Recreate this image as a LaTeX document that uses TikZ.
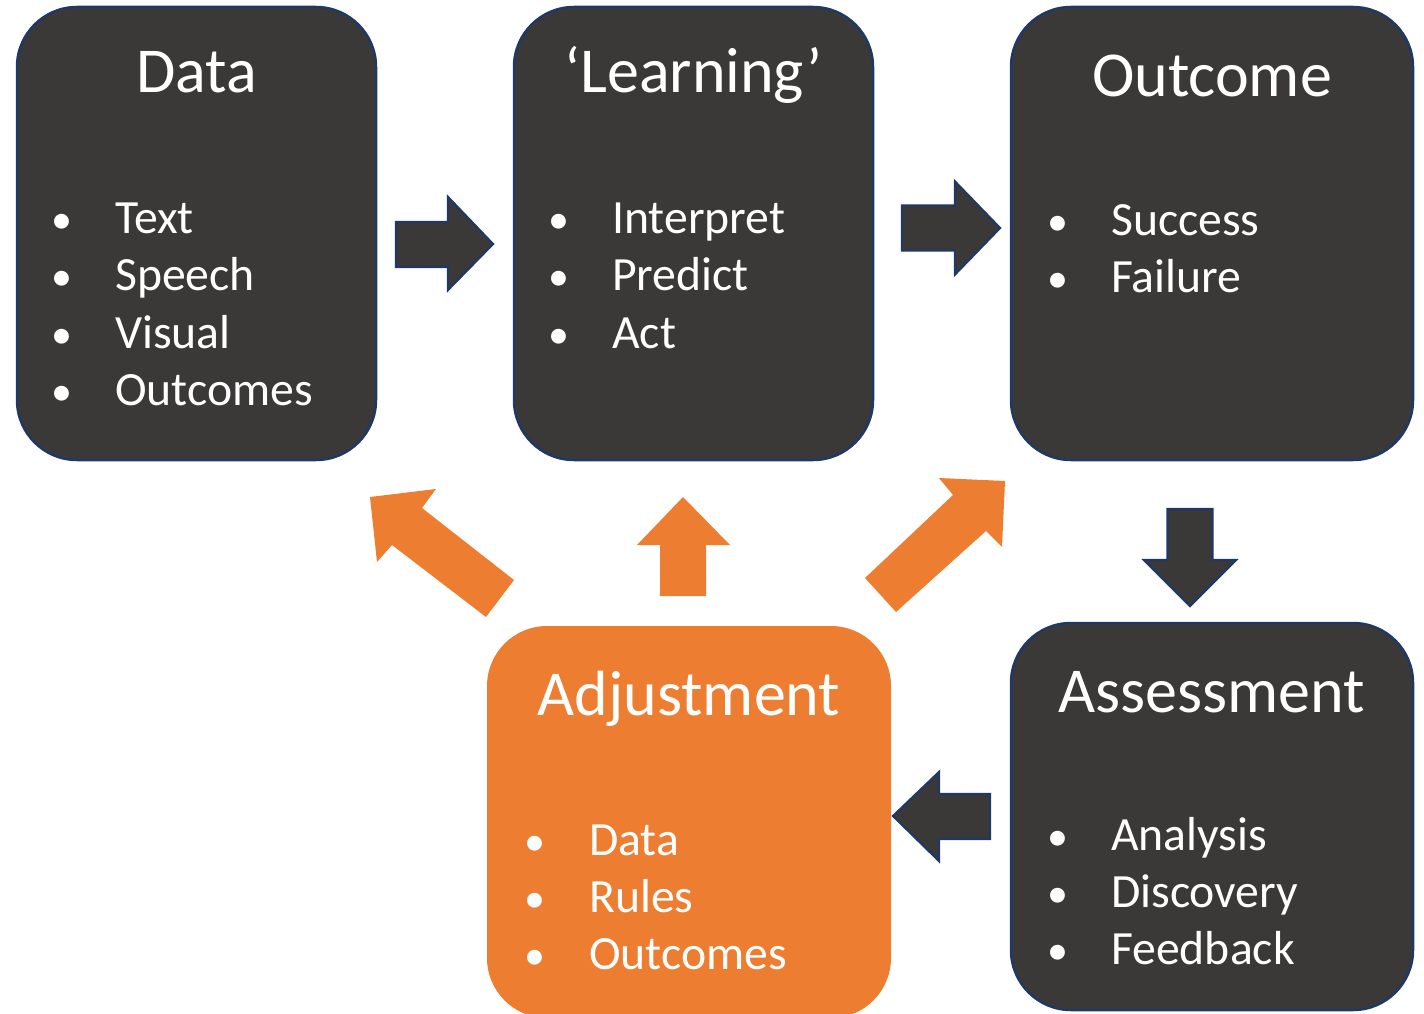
\documentclass[tikz,border=0pt]{standalone}
\usepackage{fontspec}
\setmainfont{Carlito}
\definecolor{boxdark}{HTML}{3B3838}
\definecolor{boxline}{HTML}{1F3864}
\definecolor{orng}{HTML}{ED7D31}
\begin{document}
\begin{tikzpicture}[x=1pt,y=-1pt,
  box/.style={draw=boxline, line width=2.5pt, fill=boxdark, rounded corners=60pt, inner sep=0pt},
  obox/.style={draw=none, fill=orng, rounded corners=60pt, inner sep=0pt},
  ttl/.style={text=white, font=\fontsize{64}{76}\selectfont, anchor=base, inner sep=0pt},
  itm/.style={text=white, font=\fontsize{47.7}{57}\selectfont, anchor=base west, inner sep=0pt},
  bul/.style={text=white, font=\fontsize{42}{50}\selectfont, anchor=base, inner sep=0pt},
  darr/.style={fill=boxdark, draw=boxline, line width=2.2pt, line join=miter},
  oarr/.style={fill=orng, draw=none}]
\useasboundingbox (0,0) rectangle (1424,1014);
\begin{scope}
\clip (0,0) rectangle (1424,1014);
% boxes
\node[box, minimum width=359pt, minimum height=453pt] (data) at (196.5,233.5) {};
\node[box, minimum width=359pt, minimum height=453pt] (learn) at (693.5,233.5) {};
\node[box, minimum width=402pt, minimum height=453pt] (outc) at (1212,233.5) {};
\node[box, minimum width=402pt, minimum height=387pt] (assess) at (1212,816.5) {};
\node[obox, minimum width=404pt, minimum height=392pt] (adjust) at (689,822) {};
\end{scope}
% titles
\node[ttl] (tdata) at (196.5,93) {Data};
\node[ttl] (tlearn) at (693.5,93) {‘Learning’};
\node[ttl] (toutc) at (1212,97) {Outcome};
\node[ttl] (tassess) at (1212,712) {Assessment};
\node[ttl] (tadjust) at (689,715) {Adjustment};
% Data items
\node[bul] (bd1) at (62,233) {•};   \node[itm] (d1) at (115,233) {Text};
\node[bul] (bd2) at (62,290.5) {•}; \node[itm] (d2) at (115,290.5) {Speech};
\node[bul] (bd3) at (62,348) {•};   \node[itm] (d3) at (115,348) {Visual};
\node[bul] (bd4) at (62,405.5) {•}; \node[itm] (d4) at (115,405.5) {Outcomes};
% Learning items
\node[bul] (bl1) at (559,233) {•};   \node[itm] (l1) at (612,233) {Interpret};
\node[bul] (bl2) at (559,290.5) {•}; \node[itm] (l2) at (612,290.5) {Predict};
\node[bul] (bl3) at (559,348) {•};   \node[itm] (l3) at (612,348) {Act};
% Outcome items
\node[bul] (bo1) at (1058,235) {•};   \node[itm] (o1) at (1111,235) {Success};
\node[bul] (bo2) at (1058,292.5) {•}; \node[itm] (o2) at (1111,292.5) {Failure};
% Assessment items
\node[bul] (ba1) at (1058,850) {•}; \node[itm] (a1) at (1111,850) {Analysis};
\node[bul] (ba2) at (1058,907) {•}; \node[itm] (a2) at (1111,907) {Discovery};
\node[bul] (ba3) at (1058,964) {•}; \node[itm] (a3) at (1111,964) {Feedback};
% Adjustment items
\node[bul] (bj1) at (535,855) {•}; \node[itm] (j1) at (589,855) {Data};
\node[bul] (bj2) at (535,912) {•}; \node[itm] (j2) at (589,912) {Rules};
\node[bul] (bj3) at (535,969) {•}; \node[itm] (j3) at (589,969) {Outcomes};
% dark block arrows
\filldraw[darr] (396,222) -- (448,222) -- (448,197) -- (493,244) -- (448,290) -- (448,267) -- (396,267) -- cycle;
\filldraw[darr] (902,205.5) -- (955,205.5) -- (955,181.5) -- (1000,228) -- (955,274.5) -- (955,250.5) -- (902,250.5) -- cycle;
\filldraw[darr] (1167.5,509) -- (1212.5,509) -- (1212.5,560) -- (1236,560) -- (1190,606) -- (1144,560) -- (1167.5,560) -- cycle;
\filldraw[darr] (990,794) -- (939,794) -- (939,772) -- (893,816) -- (939,861) -- (939,839) -- (990,839) -- cycle;
% orange block arrows
\fill[oarr] (660,596) -- (660,545) -- (637,545) -- (683,497) -- (730,545) -- (706,545) -- (706,596) -- cycle;
\fill[oarr] (370,497) -- (436,489) -- (422,508) -- (514,580) -- (486,617) -- (392,545) -- (377,562) -- cycle;
\fill[oarr] (1005,481) -- (1002,547) -- (986,531) -- (896,612) -- (865,578) -- (953,495) -- (939,478) -- cycle;
\end{tikzpicture}
\end{document}
